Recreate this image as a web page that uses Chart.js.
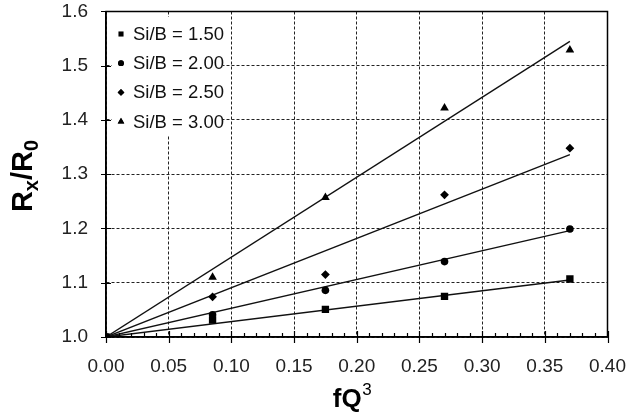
<!DOCTYPE html>
<html><head><meta charset="utf-8">
<script src="https://cdn.jsdelivr.net/npm/chart.js@4"></script>
<style>html,body{margin:0;padding:0;background:#fff}#wrap{width:627px;height:419px}</style>
</head><body><div id="wrap"><canvas id="c" width="627" height="419"></canvas></div>
<script>
// ---- data ----
const fQ3 = [0, 0.085, 0.175, 0.27, 0.37];
const siB150 = [1.000, 1.031, 1.051, 1.075, 1.107];
const siB200 = [1.000, 1.041, 1.086, 1.139, 1.199];
const siB250 = [1.000, 1.074, 1.115, 1.262, 1.348];
const siB300 = [1.000, 1.110, 1.257, 1.422, 1.529];
const seriesLabels = ['Si/B = 1.50', 'Si/B = 2.00', 'Si/B = 2.50', 'Si/B = 3.00'];
const seriesStyles = ['rect', 'circle', 'rectRot', 'triangle'];
const fitX = [0, 0.37];
const fit150 = [1.000, 1.105];
const fit200 = [1.000, 1.196];
const fit250 = [1.000, 1.336];
const fit300 = [1.000, 1.545];
const xMin = 0, xMax = 0.40, xStep = 0.05, xMinorStep = 0.01;
const yMin = 1.0, yMax = 1.6, yStep = 0.1;
const xTitle = 'fQ', xTitleSup = '3';

const series = [siB150, siB200, siB250, siB300];
const fits = [fit150, fit200, fit250, fit300];
const radii = {rect: 5.2, circle: 3.8, rectRot: 4.4, triangle: 5};
const legendRadii = {rect: 3.6, circle: 2.9, rectRot: 3.4, triangle: 3.8};
const FONT = '"Liberation Sans", Arial, sans-serif';

const datasets = [];
fits.forEach((f, i) => {
  datasets.push({
    label: 'fit ' + seriesLabels[i],
    data: fitX.map((x, j) => ({x, y: f[j]})),
    showLine: true, pointRadius: 0, borderColor: '#111', borderWidth: 1.4,
    fill: false, order: 2
  });
});
series.forEach((s, i) => {
  datasets.push({
    label: seriesLabels[i],
    data: fQ3.map((x, j) => ({x, y: s[j]})),
    showLine: false, pointStyle: seriesStyles[i], pointRadius: radii[seriesStyles[i]],
    backgroundColor: '#000', borderColor: '#000', borderWidth: 0, order: 1
  });
});

const decor = {
  id: 'decor',
  afterDatasetsDraw(chart) {
    const ctx = chart.ctx;
    ctx.save();
    ctx.fillStyle = '#fff';
    ctx.fillRect(112, 17, 111, 119);
    ctx.font = '18.5px ' + FONT;
    ctx.textBaseline = 'middle';
    ctx.textAlign = 'left';
    seriesLabels.forEach((lab, i) => {
      const cy = 34 + i * 29.2;
      const st = seriesStyles[i];
      Chart.helpers.drawPoint(ctx, {pointStyle: st, radius: legendRadii[st], rotation: 0, borderWidth: 0}, 121, cy);
      ctx.fillStyle = '#000';
      ctx.fill();
      ctx.fillStyle = '#111';
      ctx.fillText(lab, 133, cy + 1);
    });
    ctx.restore();
  },
  afterDraw(chart) {
    const ctx = chart.ctx;
    const xs = chart.scales.x, ys = chart.scales.y;
    const L = xs.left, R = xs.right, T = ys.top, B = ys.bottom;
    ctx.save();
    ctx.strokeStyle = '#000';
    ctx.lineWidth = 1.5;
    ctx.setLineDash([]);
    ctx.beginPath();
    ctx.rect(L, T, R - L, B - T);
    ctx.stroke();
    ctx.lineWidth = 1.2;
    ctx.beginPath();
    for (let v = xMin; v <= xMax + 1e-9; v += xStep) {
      const px = Math.round(xs.getPixelForValue(v)) + 0.5;
      ctx.moveTo(px, B - 6); ctx.lineTo(px, B + 6);
    }
    for (let v = xMin; v <= xMax + 1e-9; v += xMinorStep) {
      const px = Math.round(xs.getPixelForValue(v)) + 0.5;
      ctx.moveTo(px, B - 4); ctx.lineTo(px, B);
    }
    for (let v = yMin; v <= yMax + 1e-9; v += yStep) {
      const py = Math.round(ys.getPixelForValue(v)) + 0.5;
      ctx.moveTo(L - 5, py); ctx.lineTo(L + 5, py);
    }
    ctx.stroke();

    // x title
    ctx.fillStyle = '#000';
    ctx.textBaseline = 'alphabetic';
    ctx.font = 'bold 26px ' + FONT;
    const w1 = ctx.measureText(xTitle).width;
    ctx.font = '17px ' + FONT;
    const w2 = ctx.measureText(xTitleSup).width;
    const cx = 352;
    let sx = cx - (w1 + w2) / 2;
    ctx.font = 'bold 26px ' + FONT;
    ctx.textAlign = 'left';
    ctx.fillText(xTitle, sx, 407);
    ctx.font = '17px ' + FONT;
    ctx.fillText(xTitleSup, sx + w1 + 0.5, 395);

    // y title  R_x / R_0
    ctx.translate(32, 176);
    ctx.rotate(-Math.PI / 2);
    const parts = [
      {t: 'R', f: 'bold 29px', dy: 0},
      {t: 'x', f: 'bold 20px', dy: 6},
      {t: '/', f: 'bold 29px', dy: 0},
      {t: 'R', f: 'bold 29px', dy: 0},
      {t: '0', f: 'bold 20px', dy: 6}
    ];
    let tot = 0;
    parts.forEach(p => { ctx.font = p.f + ' ' + FONT; p.w = ctx.measureText(p.t).width; tot += p.w; });
    let px0 = -tot / 2;
    parts.forEach(p => {
      ctx.font = p.f + ' ' + FONT;
      ctx.fillText(p.t, px0, p.dy);
      px0 += p.w;
    });
    ctx.restore();
  }
};

new Chart(document.getElementById('c'), {
  type: 'scatter',
  data: {datasets},
  options: {
    responsive: false,
    animation: false,
    devicePixelRatio: 1,
    layout: {padding: {top: 11.5, right: 19.5, left: 0, bottom: 0}},
    plugins: {legend: {display: false}, tooltip: {enabled: false}},
    scales: {
      x: {
        type: 'linear', min: xMin, max: xMax,
        afterFit(s) { s.height = 82; s.paddingLeft = 0; s.paddingRight = 0; },
        ticks: {stepSize: xStep, callback: v => Number(v).toFixed(2), font: {size: 19, family: FONT}, color: '#222', padding: 18, maxRotation: 0, autoSkip: false},
        grid: {color: '#222', lineWidth: 1, drawTicks: false},
        border: {display: true, color: '#000', width: 1.5, dash: [3, 2]}
      },
      y: {
        type: 'linear', min: yMin, max: yMax,
        afterFit(s) { s.width = 106; s.paddingTop = 0; s.paddingBottom = 0; },
        ticks: {stepSize: yStep, callback: v => Number(v).toFixed(1), font: {size: 19, family: FONT}, color: '#222', padding: 18},
        grid: {color: '#222', lineWidth: 1, drawTicks: false},
        border: {display: true, color: '#000', width: 1.5, dash: [3, 2]}
      }
    }
  },
  plugins: [decor]
});
</script>
</body></html>
